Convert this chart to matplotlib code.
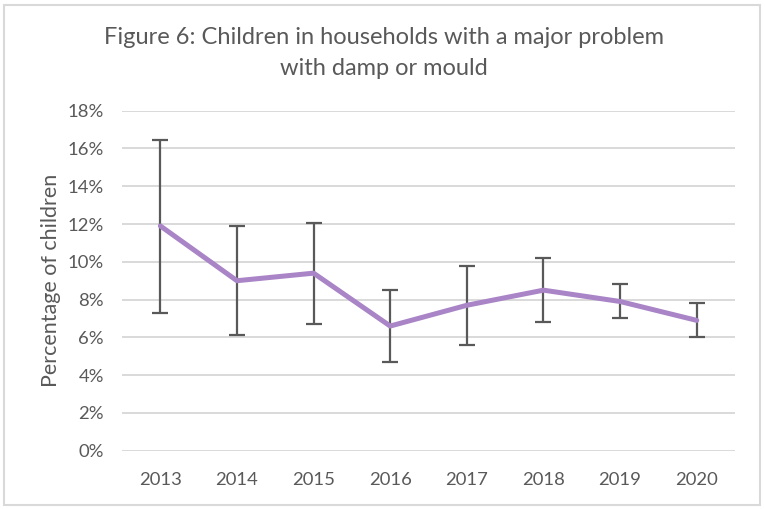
import matplotlib
matplotlib.use("Agg")
import matplotlib.pyplot as plt
from matplotlib.patches import Rectangle
from matplotlib.ticker import PercentFormatter

# 数据
years = ["2013", "2014", "2015", "2016", "2017", "2018", "2019", "2020"]
values = [11.9, 9.0, 9.4, 6.6, 7.7, 8.5, 7.9, 6.9]
upper = [16.45, 11.9, 12.05, 8.5, 9.8, 10.2, 8.8, 7.8]
lower = [7.3, 6.1, 6.7, 4.7, 5.6, 6.8, 7.0, 6.0]

plt.rcParams['font.family'] = ['Lato', 'DejaVu Sans']
c_text = "#595959"
c_grid = "#D9D9D9"
c_line = "#A984C6"

fig = plt.figure(figsize=(7.65, 5.09), dpi=100)
ax = fig.add_axes([0.1595, 0.1145, 0.8013, 0.668])

x = list(range(len(years)))
err_lo = [v - l for v, l in zip(values, lower)]
err_hi = [u - v for u, v in zip(upper, values)]

ax.errorbar(x, values, yerr=[err_lo, err_hi], fmt='none', ecolor="#595959",
            elinewidth=1.6, capsize=6, capthick=1.6, zorder=3)
ax.plot(x, values, color=c_line, linewidth=3.6, solid_capstyle='round', zorder=4)

ax.set_xlim(-0.5, len(years) - 0.5)
ax.set_ylim(0, 18)
ax.set_yticks(range(0, 19, 2))
ax.yaxis.set_major_formatter(PercentFormatter(decimals=0))
ax.set_xticks(x)
ax.set_xticklabels(years)
ax.grid(axis='y', color=c_grid, linewidth=1.4)
ax.set_axisbelow(True)
for s in ax.spines.values():
    s.set_visible(False)
ax.tick_params(length=0, labelsize=13.3, colors=c_text)
ax.tick_params(axis='y', pad=13)
ax.tick_params(axis='x', pad=15)

ax.set_ylabel("Percentage of children", fontsize=15.5, color=c_text, labelpad=5)

fig.text(0.502, 0.926, "Figure 6: Children in households with a major problem",
         ha='center', va='center', fontsize=17, color=c_text)
fig.text(0.502, 0.866, "with damp or mould",
         ha='center', va='center', fontsize=17, color=c_text)

# 外框
fig.add_artist(Rectangle((4 / 765, 4 / 509), 756 / 765, 500 / 509, transform=fig.transFigure,
                         fill=False, edgecolor=c_grid, linewidth=1.5))

fig.savefig("out.png", dpi=100)
